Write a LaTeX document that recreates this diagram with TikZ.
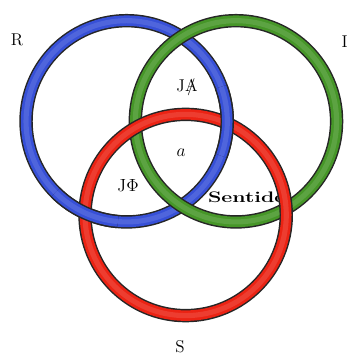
\documentclass[tikz,border=0pt]{standalone}
\usepackage{tikz}
\usepackage{graphicx}
\usetikzlibrary{calc}
\definecolor{anelazul}{RGB}{55,80,215}
\definecolor{anelverde}{RGB}{70,150,40}
\definecolor{anelverm}{RGB}{235,35,20}

\tikzset{
  borda/.style={line width=11pt, black!85},
  tubo/.style={line width=8.6pt, #1},
  brilho/.style={line width=4.2pt, #1!88!white},
  rotulo/.style={font=\fontsize{14}{16}\selectfont, inner sep=1pt}
}
% anel completo: cor, centro
\newcommand{\anel}[2]{%
  \draw[borda] (#2) circle[radius=2.9];
  \draw[tubo=#1] (#2) circle[radius=2.9];
  \draw[brilho=#1] (#2) circle[radius=2.9];
}
% trecho de anel por cima: cor, centro, inicio, fim
\newcommand{\arco}[4]{%
  \draw[borda] ([shift={(#3:2.9)}]#2) arc[start angle=#3, end angle=#4, radius=2.9];
  \draw[tubo=#1] ([shift={(#3:2.9)}]#2) arc[start angle=#3, end angle=#4, radius=2.9];
  \draw[brilho=#1] ([shift={(#3:2.9)}]#2) arc[start angle=#3, end angle=#4, radius=2.9];
}

\begin{document}
\begin{tikzpicture}
  \useasboundingbox (0,0) rectangle (10,10.346);
  \coordinate (cAzul) at (3.65,6.85);
  \coordinate (cVerde) at (6.8,6.85);
  \coordinate (cVerm) at (5.35,4.15);

  % Rótulos
  \node[rotulo] (R) at (0.49,9.19) {R};
  \node[rotulo] (I) at (9.93,9.14) {I};
  \node[rotulo] (S) at (5.19,0.35) {S};
  \node[rotulo] (JA) at (5.39,7.81) {J\ooalign{A\cr\hidewidth/\hidewidth}};
  \node[rotulo] (a) at (5.22,5.94) {$a$};
  \node[rotulo] (JPhi) at (3.69,5.01) {$\mathrm{J}\Phi$};
  \node[font=\fontsize{12.5}{14}\selectfont\bfseries, inner sep=0pt, anchor=west] (sentido) at (5.99,4.67) {\scalebox{1.4}[1]{Sentido}};

  % Anéis
  \anel{anelazul}{cAzul}
  \anel{anelverde}{cVerde}
  \anel{anelverm}{cVerm}

  % azul por cima do vermelho
  \arco{anelazul}{cAzul}{-20}{20}
  \arco{anelazul}{cAzul}{225}{265}
\end{tikzpicture}
\end{document}
